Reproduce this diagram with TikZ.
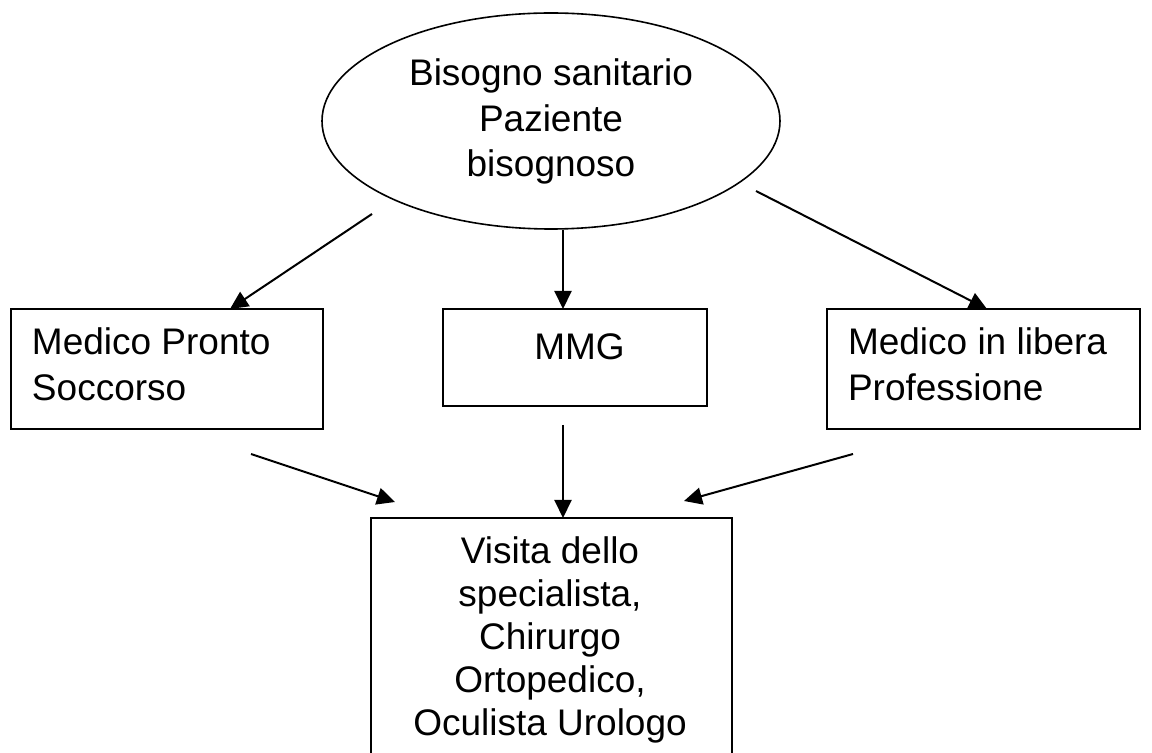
\documentclass[tikz,border=0pt]{standalone}
\usepackage{fontspec}
\setmainfont{Liberation Sans}
\usetikzlibrary{arrows.meta,shapes.geometric}

\tikzset{
  shapeline/.style={draw=black, line width=1pt, inner sep=0pt, outer sep=0pt},
  boxshape/.style={shapeline, rectangle},
  ovalshape/.style={shapeline, ellipse, line width=0.8pt},
  label/.style={inner sep=0pt, outer sep=0pt, text=black},
  flow/.style={draw=black, line width=1pt, -{Triangle[length=9pt,width=8.5pt]}},
}

\begin{document}
\begin{tikzpicture}[x=0.5pt, y=-0.5pt]
  \path[use as bounding box, clip] (0,0) rectangle (1152,753);
  \fill[white] (0,0) rectangle (1152,753);

  % shapes
  \node[ovalshape, minimum width=229pt, minimum height=108pt] (need) at (551,121) {};
  \node[boxshape, minimum width=156pt, minimum height=60pt] (ps) at (167,369) {};
  \node[boxshape, minimum width=132pt, minimum height=48.5pt] (mmg) at (575,357.5) {};
  \node[boxshape, minimum width=156.5pt, minimum height=60pt] (lp) at (983.5,369) {};
  \node[boxshape, minimum width=180.5pt, minimum height=141pt] (vs) at (551.5,659) {};

  % texts (base anchor = baseline of the last line)
  \node[label, anchor=base, align=center, font=\fontsize{18.5}{22.75}\selectfont] (needtxt) at (551,177)
    {Bisogno sanitario\\Paziente\\bisognoso};
  \node[label, anchor=base west, align=left, font=\fontsize{18.5}{23}\selectfont] (pstxt) at (32,401)
    {Medico Pronto\\Soccorso};
  \node[label, anchor=base, font=\fontsize{18.5}{23}\selectfont] (mmgtxt) at (579.5,360) {MMG};
  \node[label, anchor=base west, align=left, font=\fontsize{18.5}{23}\selectfont] (lptxt) at (848,401)
    {Medico in libera\\Professione};
  \node[label, anchor=base, align=center, font=\fontsize{18.5}{21.5}\selectfont] (vstxt) at (550,735)
    {Visita dello\\specialista,\\Chirurgo\\Ortopedico,\\Oculista Urologo};

  % connector end points
  \coordinate (n1) at (372,214);
  \coordinate (n2) at (563,230);
  \coordinate (n3) at (756,191);
  \coordinate (p1) at (230,309);
  \coordinate (p2) at (563,309);
  \coordinate (p3) at (987,309);
  \coordinate (s1) at (251,454);
  \coordinate (s2) at (563,425);
  \coordinate (s3) at (853,454);
  \coordinate (t1) at (395,502);
  \coordinate (t2) at (563,518);
  \coordinate (t3) at (684,501);

  % connectors
  \draw[flow] (n1) -- (p1);
  \draw[flow] (n2) -- (p2);
  \draw[flow] (n3) -- (p3);
  \draw[flow] (s1) -- (t1);
  \draw[flow] (s2) -- (t2);
  \draw[flow] (s3) -- (t3);
\end{tikzpicture}
\end{document}
